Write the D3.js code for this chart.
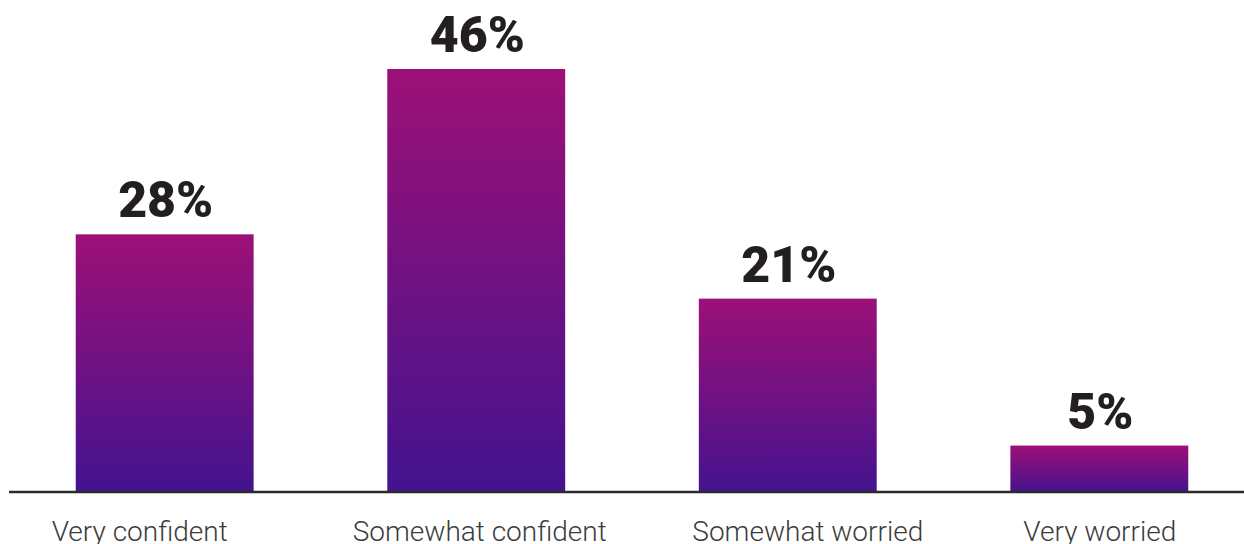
<!DOCTYPE html>
<html>
<head>
<meta charset="utf-8">
<script src="https://cdn.jsdelivr.net/npm/d3@7/dist/d3.min.js"></script>
<style>
  html, body { margin: 0; padding: 0; background: #fff; }
  svg { display: block; }
</style>
</head>
<body>
<svg id="chart" width="1244" height="544"></svg>
<script>
// Survey responses and their shares (percent)
const categories = ["Very confident", "Somewhat confident", "Somewhat worried", "Very worried"];
const values = [28, 46, 21, 5];

const W = 1244, H = 544;
const baseY = 491.5;

const svg = d3.select("#chart");

const x = d3.scaleBand()
  .domain(categories)
  .range([10, 1254])
  .paddingInner(0.429)
  .paddingOuter(0.211);

const y = d3.scaleLinear()
  .domain([0, 46])
  .range([baseY, 69]);

// Per-bar vertical gradient, magenta on top fading to violet
const defs = svg.append("defs");
const grad = defs.append("linearGradient")
  .attr("id", "barGrad")
  .attr("x1", 0).attr("y1", 0)
  .attr("x2", 0).attr("y2", 1);
grad.append("stop").attr("offset", "0%").attr("stop-color", "#9d1077");
grad.append("stop").attr("offset", "100%").attr("stop-color", "#43138f");

const data = categories.map((c, i) => ({ c, v: values[i] }));

svg.append("g").selectAll("rect")
  .data(data)
  .join("rect")
  .attr("x", d => x(d.c))
  .attr("y", d => y(d.v))
  .attr("width", x.bandwidth())
  .attr("height", d => y(0) - y(d.v) + 1.5)
  .attr("fill", "url(#barGrad)");

// Baseline
svg.append("line")
  .attr("x1", 9).attr("x2", W)
  .attr("y1", baseY + 0.5).attr("y2", baseY + 0.5)
  .attr("stroke", "#2b2a2b")
  .attr("stroke-width", 2.5);

// Value labels
svg.append("g").selectAll("text")
  .data(data)
  .join("text")
  .attr("x", d => x(d.c) + x.bandwidth() / 2 + 1)
  .attr("y", d => y(d.v) - 17)
  .attr("text-anchor", "middle")
  .attr("font-family", "Roboto, 'Noto Sans', sans-serif")
  .attr("font-weight", 900)
  .attr("font-size", 50)
  .attr("fill", "#231f20")
  .text(d => d.v + "%");

// Category labels sit in their own text boxes, slightly off the bar centres
const labelShift = [-25, 3.5, 20, 0.5];
svg.append("g").selectAll("text")
  .data(data)
  .join("text")
  .attr("x", (d, i) => x(d.c) + x.bandwidth() / 2 + labelShift[i])
  .attr("y", 541)
  .attr("text-anchor", "middle")
  .attr("font-family", "Roboto, 'Noto Sans', sans-serif")
  .attr("font-weight", 300)
  .attr("font-size", 28)
  .attr("fill", "#3c3c3c")
  .text(d => d.c);
</script>
</body>
</html>
